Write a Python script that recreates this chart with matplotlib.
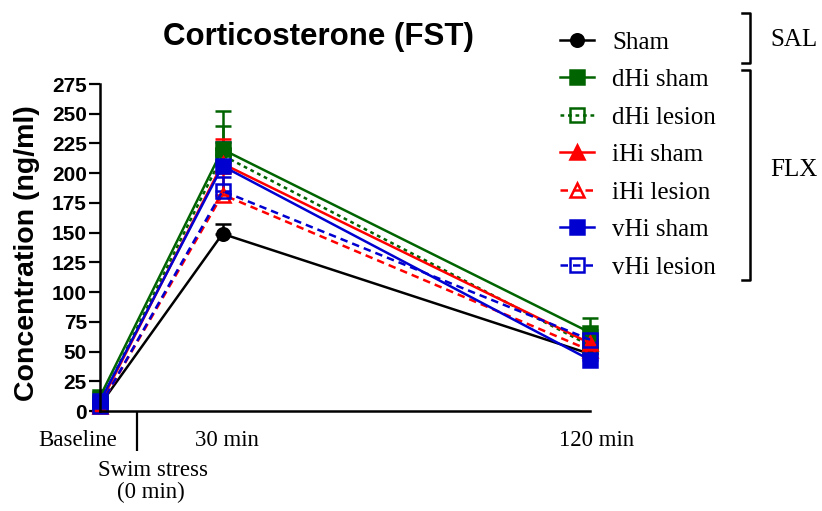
"""Corticosterone after forced swim test."""

import matplotlib
matplotlib.use("Agg")
import matplotlib.pyplot as plt
from matplotlib.lines import Line2D

# time points (min) and labels
times = [0, 30, 120]
groups = ["Sham", "dHi sham", "dHi lesion", "iHi sham", "iHi lesion", "vHi sham", "vHi lesion"]

# mean values and upward SEM
sham = [5, 149, 48]
sham_err = [3, 8, 5]
dhi_sham = [12, 220, 66]
dhi_sham_err = [4, 32, 12]
dhi_lesion = [7, 215, 55]
dhi_lesion_err = [3, 25, 8]
ihi_sham = [6, 208, 57]
ihi_sham_err = [3, 21, 6]
ihi_lesion = [4, 182, 51]
ihi_lesion_err = [2, 18, 5]
vhi_sham = [8, 206, 43]
vhi_sham_err = [4, 20, 15]
vhi_lesion = [4, 185, 60]
vhi_lesion_err = [2, 12, 8]

GREEN = "#006400"
RED = "#ff0000"
BLUE = "#0000d0"
styles = [
    dict(color="black", marker="o", mfc="black", ls="-", ms=9),
    dict(color=GREEN, marker="s", mfc=GREEN, ls="-", ms=9.5),
    dict(color=GREEN, marker="s", mfc="none", ls=(0, (1.5, 1.5)), ms=9.5),
    dict(color=RED, marker="^", mfc=RED, ls="-", ms=10),
    dict(color=RED, marker="^", mfc="none", ls=(0, (3, 2)), ms=10),
    dict(color=BLUE, marker="s", mfc=BLUE, ls="-", ms=9.5),
    dict(color=BLUE, marker="s", mfc="none", ls=(0, (3, 2)), ms=9.5),
]
series = [sham, dhi_sham, dhi_lesion, ihi_sham, ihi_lesion, vhi_sham, vhi_lesion]
errors = [sham_err, dhi_sham_err, dhi_lesion_err, ihi_sham_err, ihi_lesion_err,
          vhi_sham_err, vhi_lesion_err]

fig = plt.figure(figsize=(8.22, 5.11), dpi=100)
W, H = 822, 511
ax = fig.add_axes([100 / W, 1 - 411 / H, 490 / W, 327 / H])

handles = []
for vals, err, st, name in zip(series, errors, styles, groups):
    c = ax.errorbar(times, vals, yerr=[[0] * len(err), err], color=st["color"],
                    marker=st["marker"], mfc=st["mfc"], mec=st["color"], mew=1.8,
                    ms=st["ms"], ls=st["ls"], lw=1.8, capsize=6, capthick=1.8,
                    elinewidth=1.8, clip_on=False, label=name)
    for a in c.get_children():
        a.set_clip_on(False)
    handles.append(c[0])

ax.set_xlim(0, 120)
ax.set_ylim(0, 275)
ax.set_yticks(range(0, 276, 25))
for lab in ax.get_yticklabels():
    lab.set_fontweight("bold")
    lab.set_fontfamily("Liberation Sans")
ax.tick_params(axis="y", length=8, width=1.6, labelsize=15, pad=1.5)
ax.set_xticks([9])
ax.set_xticklabels([""])
ax.tick_params(axis="x", length=29, width=1.6)
for s in ["top", "right"]:
    ax.spines[s].set_visible(False)
for s in ["left", "bottom"]:
    ax.spines[s].set_linewidth(1.8)

serif = "Liberation Serif"
xlab = dict(fontsize=16.5, family=serif, ha="center", va="center",
            xycoords="data", textcoords="offset points", annotation_clip=False)
ax.annotate("Baseline", xy=(0, 0), xytext=(-16, -21), **xlab)
ax.annotate("30 min", xy=(30, 0), xytext=(3, -21), **xlab)
ax.annotate("120 min", xy=(120, 0), xytext=(5, -21), **xlab)
ax.annotate("Swim stress", xy=(9, 0), xytext=(12, -42.5), **xlab)
ax.annotate("(0 min)", xy=(9, 0), xytext=(10, -59), **xlab)

fig.text(318 / W, 1 - 45 / H, "Corticosterone (FST)", fontsize=22.5,
         fontweight="bold", family="Liberation Sans", ha="center", va="baseline")
fig.text(27 / W, 1 - 253 / H, "Concentration (ng/ml)", fontsize=20.5,
         fontweight="bold", family="Liberation Sans", rotation=90,
         ha="center", va="center")

fig.legend(handles, groups, loc="upper left", bbox_to_anchor=(560 / W, 1 - 31 / H),
           frameon=False, prop=dict(family=serif, size=18), handlelength=1.35,
           handletextpad=0.75, labelspacing=0.6, borderpad=0, borderaxespad=0)

# group brackets
def bracket(y0, y1):
    xs = [742 / W, 750 / W, 750 / W, 742 / W]
    ys = [1 - y0 / H, 1 - y0 / H, 1 - y1 / H, 1 - y1 / H]
    fig.add_artist(Line2D(xs, ys, color="black", lw=1.8, transform=fig.transFigure))

bracket(13, 63)
bracket(70, 280)
fig.text(794 / W, 1 - 40 / H, "SAL", fontsize=18, family=serif, ha="center", va="center")
fig.text(794 / W, 1 - 170 / H, "FLX", fontsize=18, family=serif, ha="center", va="center")

fig.savefig("out.png", dpi=100)
